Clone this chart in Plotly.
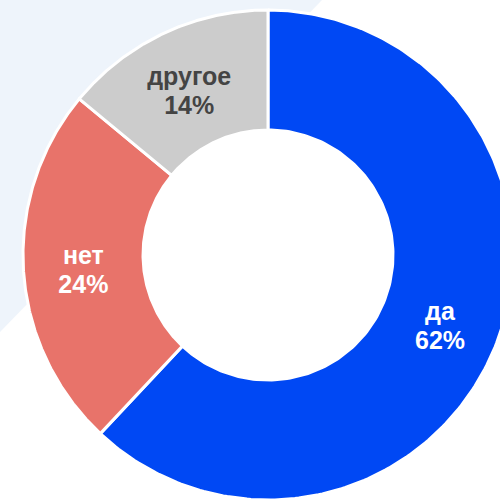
import numpy as np
import plotly.graph_objects as go

# ---- data ----
labels = ["да", "нет", "другое"]
values = [62, 24, 14]
colors = ["#0048F4", "#E8736A", "#CCCCCC"]
text_colors = ["#FFFFFF", "#FFFFFF", "#444444"]

# ---- geometry (layout units = pixels) ----
W, H = 500, 502
CX, CY = 268, 255
R_OUT, R_IN = 245, 125
START_DEG = 90.0  # first slice starts at 12 o'clock, goes clockwise
NAME_DY, PCT_DY = -9, 20

fig = go.Figure()

total = float(sum(values))
angle = START_DEG
lx, ly, name_txt, pct_txt = [], [], [], []
for lab, val, col in zip(labels, values, colors):
    sweep = 360.0 * val / total
    a0, a1 = angle, angle - sweep
    t_out = np.radians(np.linspace(a0, a1, 240))
    t_in = np.radians(np.linspace(a1, a0, 160))
    xs = np.concatenate([CX + R_OUT * np.cos(t_out), CX + R_IN * np.cos(t_in)])
    ys = np.concatenate([CY - R_OUT * np.sin(t_out), CY - R_IN * np.sin(t_in)])
    xs = np.append(xs, xs[0])
    ys = np.append(ys, ys[0])
    fig.add_trace(go.Scatter(
        x=xs, y=ys, mode="lines", fill="toself", fillcolor=col,
        line=dict(color="white", width=3), hoverinfo="skip", showlegend=False,
    ))
    mid = np.radians((a0 + a1) / 2)
    rm = (R_OUT + R_IN) / 2
    lx.append(CX + rm * np.cos(mid))
    ly.append(CY - rm * np.sin(mid))
    name_txt.append(f"<b>{lab}</b>")
    pct_txt.append(f"<b>{round(100 * val / total)}%</b>")
    angle = a1

font = dict(family="Liberation Sans, Arial, sans-serif", size=25, color=text_colors)
fig.add_trace(go.Scatter(
    x=lx, y=[v + NAME_DY for v in ly], mode="text", text=name_txt,
    textfont=font, textposition="middle center", hoverinfo="skip", showlegend=False,
))
fig.add_trace(go.Scatter(
    x=lx, y=[v + PCT_DY for v in ly], mode="text", text=pct_txt,
    textfont=font, textposition="middle center", hoverinfo="skip", showlegend=False,
))

fig.update_layout(
    width=W, height=H,
    margin=dict(l=0, r=0, t=0, b=0),
    paper_bgcolor="white", plot_bgcolor="white",
    hovermode=False,
    xaxis=dict(range=[0, W], visible=False, fixedrange=True),
    yaxis=dict(range=[H, 0], visible=False, fixedrange=True,
               scaleanchor="x", scaleratio=1),
    shapes=[dict(type="path", xref="x", yref="y",
                 path="M 0 0 L 322 0 L 0 332 Z",
                 fillcolor="#EEF4FB", line=dict(width=0), layer="below")],
)

fig.write_html(
    "out.html",
    config={"displayModeBar": False, "staticPlot": True},
    post_script="document.body.style.margin='0';document.body.style.overflow='hidden';",
)
